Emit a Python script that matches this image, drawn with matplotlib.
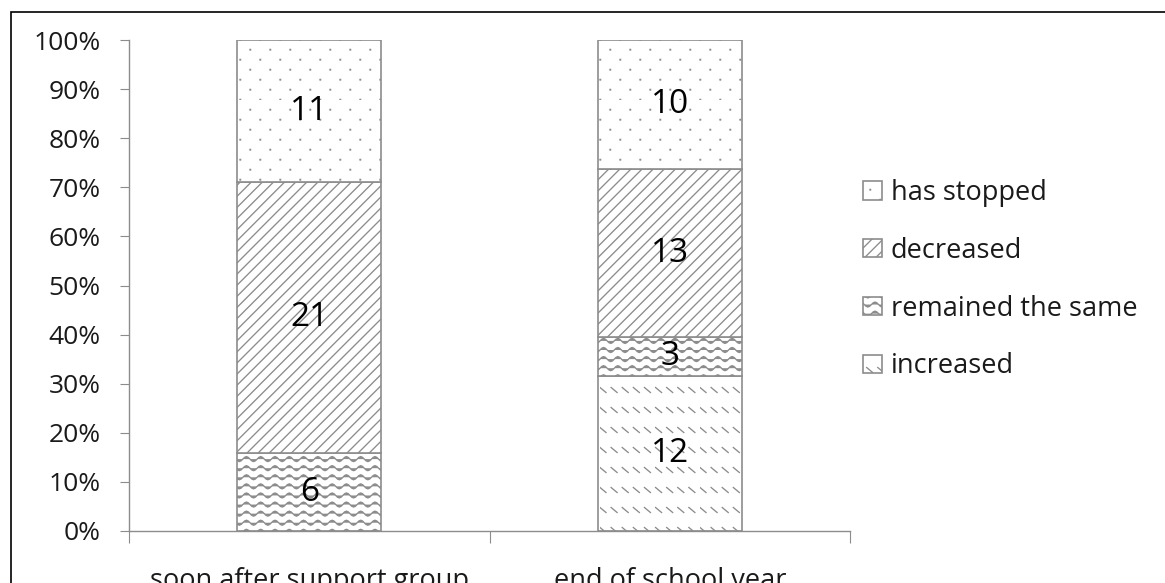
import warnings
import numpy as np
import matplotlib
matplotlib.use('Agg')
import matplotlib.pyplot as plt
from matplotlib import hatch as mhatch
from matplotlib.path import Path
from matplotlib.patches import Rectangle

warnings.filterwarnings('ignore')

# data (counts of pupils per answer)
categories = ['soon after support group', 'end of school year']
series_names = ['increased', 'remained the same', 'decreased', 'has stopped']
increased = [0, 12]
remained = [6, 3]
decreased = [21, 13]
stopped = [11, 10]
y_ticks = [0, 10, 20, 30, 40, 50, 60, 70, 80, 90, 100]


# ---- custom fill textures (tiled per inch like the built-in hatches) ----
class WaveHatch(mhatch.HatchPatternBase):
    def __init__(self, hatch, density):
        self.num_rows = hatch.count('~') * 11
        self.periods = 7
        self.pts = self.periods * 8 + 1
        self.num_vertices = self.num_rows * self.pts

    def set_vertices_and_codes(self, vertices, codes):
        t = np.linspace(0, 1, self.pts)
        for i in range(self.num_rows):
            sl = slice(i * self.pts, (i + 1) * self.pts)
            vertices[sl, 0] = t
            vertices[sl, 1] = (i + 0.5) / self.num_rows + 0.025 * np.sin(2 * np.pi * self.periods * t)
            codes[sl] = Path.LINETO
            codes[i * self.pts] = Path.MOVETO


class DashHatch(mhatch.HatchPatternBase):
    def __init__(self, hatch, density):
        self.rows = hatch.count('k') * 5
        self.cols = 9
        self.num_vertices = self.rows * self.cols * 2

    def set_vertices_and_codes(self, vertices, codes):
        k = 0
        for i in range(self.rows):
            for j in range(self.cols):
                x = j / self.cols
                y = (i + 0.5) / self.rows
                vertices[k] = (x, y + 0.025)
                vertices[k + 1] = (x + 0.06, y - 0.025)
                codes[k] = Path.MOVETO
                codes[k + 1] = Path.LINETO
                k += 2


class DotHatch(mhatch.HatchPatternBase):
    def __init__(self, hatch, density):
        self.rows = hatch.count(':') * 10
        self.cols = 5
        self.num_vertices = self.rows * (self.cols + 1) * 5

    def set_vertices_and_codes(self, vertices, codes):
        s = 0.006
        sq = np.array([[0, 0], [s, 0], [s, s], [0, s], [0, 0]])
        k = 0
        for i in range(self.rows):
            shift = 0.5 / self.cols if i % 2 else 0.0
            for j in range(self.cols + 1):
                vertices[k:k + 5] = sq + (j / self.cols + shift, i / self.rows)
                codes[k:k + 5] = [Path.MOVETO, Path.LINETO, Path.LINETO,
                                  Path.LINETO, Path.CLOSEPOLY]
                k += 5


mhatch._hatch_types.extend([WaveHatch, DashHatch, DotHatch])
mhatch._validate_hatch_pattern = lambda h: None

plt.rcParams['font.family'] = ['Open Sans', 'DejaVu Sans']
plt.rcParams['hatch.linewidth'] = 0.95

#==============================================================================
fig = plt.figure(figsize=(11.65, 5.83), dpi=100)
ax = fig.add_axes([129 / 1165, 52 / 583, 721 / 1165, 491 / 583])

counts = np.array([increased, remained, decreased, stopped], dtype=float)
totals = counts.sum(axis=0)
pct = counts / totals * 100
hatches = ['k', '~', '///', ':']
edge = '#8c8c8c'
txt = '#1a1a1a'

x = np.arange(len(categories))
bottom = np.zeros(len(categories))
handles = []
for name, vals, raw, h in zip(series_names, pct, counts, hatches):
    bars = ax.bar(x, vals, 0.4, bottom=bottom, color='white', edgecolor=edge,
                  hatch=h, linewidth=1.2, label=name, zorder=2)
    handles.append(bars)
    for xi, b, v, r in zip(x, bottom, vals, raw):
        if r > 0:
            ax.text(xi, b + v / 2, '%d' % r, ha='center', va='center',
                    fontsize=24, color='black', zorder=3)
    bottom += vals

ax.set_xlim(-0.5, 1.5)
ax.set_ylim(0, 100)
ax.set_yticks(y_ticks)
ax.set_yticklabels(['%d%%' % t for t in y_ticks])
ax.tick_params(axis='y', length=6.5, color=edge, labelsize=19, labelcolor=txt, pad=14)

ax.set_xticks([-0.5, 0.5, 1.5])
ax.set_xticklabels([])
ax.set_xticks(x, minor=True)
ax.set_xticklabels(categories, minor=True)
ax.tick_params(axis='x', which='major', length=8.5, color=edge)
ax.tick_params(axis='x', which='minor', length=0, labelsize=19.5, labelcolor=txt, pad=26)

for s in ['top', 'right']:
    ax.spines[s].set_visible(False)
for s in ['left', 'bottom']:
    ax.spines[s].set_color(edge)
    ax.spines[s].set_linewidth(1.0)

leg = ax.legend(handles[::-1], series_names[::-1], loc='center left',
                bbox_to_anchor=(1.018, 0.512), frameon=False, fontsize=19.5,
                handlelength=0.7, handleheight=0.67, handletextpad=0.33,
                labelspacing=1.1, borderaxespad=0.0, borderpad=0.0)
for t in leg.get_texts():
    t.set_color(txt)

# outer chart frame
fig.patches.append(Rectangle((11 / 1165, -0.1), 1.2, 1.1 - 12 / 583,
                             transform=fig.transFigure, fill=False,
                             edgecolor='black', linewidth=1.2))

fig.savefig('out.png', dpi=100)
